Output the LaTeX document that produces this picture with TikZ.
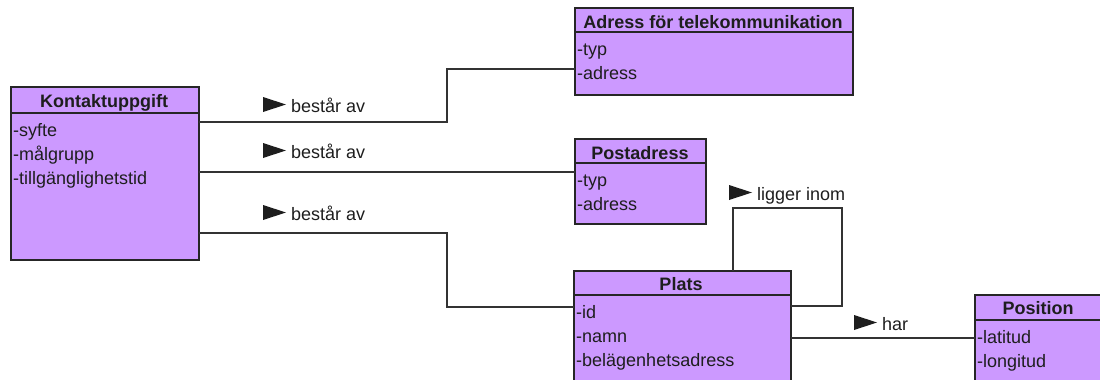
\documentclass[tikz,border=0pt]{standalone}
\usepackage{fontspec}
\setmainfont{Liberation Sans}
\definecolor{umlfill}{HTML}{CC99FF}
\definecolor{boxline}{HTML}{262626}
\definecolor{linecol}{HTML}{333333}
\definecolor{txt}{HTML}{1E1E1E}
\newcommand\uifont{\fontsize{18}{21}\selectfont}
% filled direction triangle in front of an association label
\newcommand\reltri[1]{\fill[txt] (#1.base west) ++(-28,0) -- ++(23,-7.5) -- ++(-23,-7.5) -- cycle;}
\tikzset{
  cls/.style={draw=boxline, fill=umlfill, line width=1.6pt, anchor=north west,
              inner sep=0pt, outer sep=0pt},
  divider/.style={draw=boxline, line width=1.6pt},
  ttl/.style={anchor=base, inner sep=0pt, font=\bfseries\uifont, text=txt},
  attr/.style={anchor=base west, inner sep=0pt, font=\uifont, text=txt},
  rel/.style={anchor=base west, inner sep=0pt, font=\uifont, text=txt},
  conn/.style={draw=linecol, line width=1.2pt},
}
\begin{document}
\begin{tikzpicture}[x=1pt, y=-1pt]
\useasboundingbox (0,0) rectangle (1100,380);
\clip (0,0) rectangle (1100,380);

% classes
\node[cls, minimum width=188pt, minimum height=173pt] (kon) at (11,87) {};
\draw[divider] (kon.west |- 0,113) -- (kon.east |- 0,113);
\node[ttl] (kon-t) at (104,107) {Kontaktuppgift};
\node[attr] (kon-a1) at (13,136) {-syfte};
\node[attr] (kon-a2) at (13,160) {-målgrupp};
\node[attr] (kon-a3) at (13,184) {-tillgänglighetstid};

\node[cls, minimum width=278pt, minimum height=87pt] (adr) at (575,8) {};
\draw[divider] (adr.west |- 0,32) -- (adr.east |- 0,32);
\node[ttl] (adr-t) at (713,28) {Adress för telekommunikation};
\node[attr] (adr-a1) at (577,55) {-typ};
\node[attr] (adr-a2) at (577,79) {-adress};

\node[cls, minimum width=131pt, minimum height=85pt] (post) at (575,139) {};
\draw[divider] (post.west |- 0,163) -- (post.east |- 0,163);
\node[ttl] (post-t) at (640,159) {Postadress};
\node[attr] (post-a1) at (577,186) {-typ};
\node[attr] (post-a2) at (577,210) {-adress};

\node[cls, minimum width=217pt, minimum height=130pt] (plats) at (574,271) {};
\draw[divider] (plats.west |- 0,295) -- (plats.east |- 0,295);
\node[ttl] (plats-t) at (681,290) {Plats};
\node[attr] (plats-a1) at (576,318) {-id};
\node[attr] (plats-a2) at (576,342) {-namn};
\node[attr] (plats-a3) at (576,366) {-belägenhetsadress};

\node[cls, minimum width=130pt, minimum height=110pt] (pos) at (975,295) {};
\draw[divider] (pos.west |- 0,320) -- (pos.east |- 0,320);
\node[ttl] (pos-t) at (1038,314) {Position};
\node[attr] (pos-a1) at (977,343) {-latitud};
\node[attr] (pos-a2) at (977,367) {-longitud};

% associations
\draw[conn] (kon.east |- 0,122) -| (447,69) -- (adr.west |- 0,69);
\draw[conn] (kon.east |- 0,172) -- (post.west |- 0,172);
\draw[conn] (kon.east |- 0,233) -| (447,307) -- (plats.west |- 0,307);
\draw[conn] (733,0 |- plats.north) |- (842,208) |- (plats.east |- 0,306);
\draw[conn] (plats.east |- 0,338) -- (pos.west |- 0,338);

% association labels
\node[rel] (r1) at (291,112) {består av};
\node[rel] (r2) at (291,158) {består av};
\node[rel] (r3) at (291,220) {består av};
\node[rel] (r4) at (757,200) {ligger inom};
\node[rel] (r5) at (882,330) {har};
\reltri{r1}
\reltri{r2}
\reltri{r3}
\reltri{r4}
\reltri{r5}
\end{tikzpicture}
\end{document}
